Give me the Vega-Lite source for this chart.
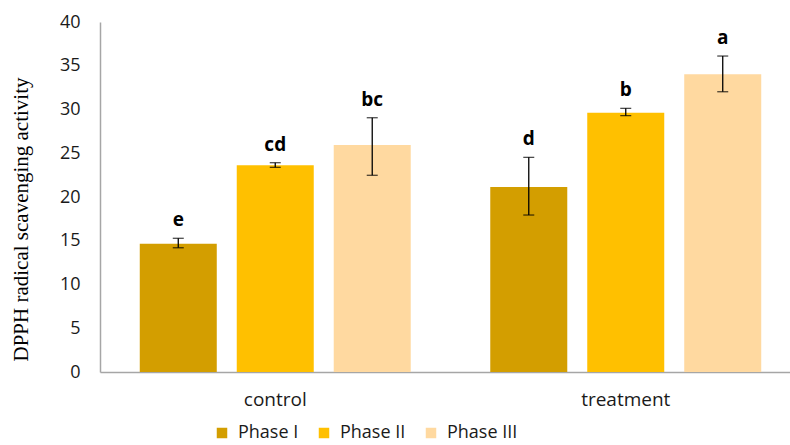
{
  "$schema": "https://vega.github.io/schema/vega-lite/v6.json",
  "width": 690,
  "height": 350,
  "autosize": {"type": "none"},
  "padding": {"left": 100, "top": 22, "right": 0, "bottom": 73},
  "background": "white",
  "config": {"view": {"stroke": null}, "font": "Open Sans"},
  "data": {
    "values": [
      {"group": "control", "phase": "Phase I", "mean": 14.66, "lo": 14.2, "hi": 15.28, "sig": "e"},
      {"group": "control", "phase": "Phase II", "mean": 23.62, "lo": 23.39, "hi": 23.92, "sig": "cd"},
      {"group": "control", "phase": "Phase III", "mean": 25.94, "lo": 22.48, "hi": 29.06, "sig": "bc"},
      {"group": "treatment", "phase": "Phase I", "mean": 21.14, "lo": 17.94, "hi": 24.53, "sig": "d"},
      {"group": "treatment", "phase": "Phase II", "mean": 29.64, "lo": 29.3, "hi": 30.13, "sig": "b"},
      {"group": "treatment", "phase": "Phase III", "mean": 34.02, "lo": 32.03, "hi": 36.11, "sig": "a"}
    ]
  },
  "encoding": {
    "x": {
      "field": "group",
      "type": "nominal",
      "sort": ["control", "treatment"],
      "scale": {"range": [0, 701], "paddingInner": 0, "paddingOuter": 0},
      "axis": {
        "title": null,
        "labelAngle": 0,
        "labelFontSize": 19,
        "labelColor": "#1a1a1a",
        "labelPadding": 18,
        "ticks": false,
        "domainColor": "#a6a6a6",
        "domainWidth": 1.5
      }
    },
    "xOffset": {
      "field": "phase",
      "type": "nominal",
      "sort": ["Phase I", "Phase II", "Phase III"],
      "scale": {"paddingInner": 0.206, "paddingOuter": 0.41}
    }
  },
  "layer": [
    {
      "mark": {"type": "bar"},
      "encoding": {
        "y": {
          "field": "mean",
          "type": "quantitative",
          "scale": {"domain": [0, 40]},
          "axis": {
            "title": "DPPH radical scavenging activity",
            "titleFont": "Liberation Serif",
            "titleFontWeight": "normal",
            "titleFontSize": 21,
            "titleColor": "#000000",
            "titlePadding": 28,
            "titleY": 197,
            "values": [0, 5, 10, 15, 20, 25, 30, 35, 40],
            "grid": false,
            "ticks": false,
            "labelPadding": 20,
            "labelFontSize": 18,
            "labelColor": "#1a1a1a",
            "domainColor": "#a6a6a6",
            "domainWidth": 1.5
          }
        },
        "color": {
          "field": "phase",
          "type": "nominal",
          "sort": ["Phase I", "Phase II", "Phase III"],
          "scale": {"domain": ["Phase I", "Phase II", "Phase III"], "range": ["#D39E00", "#FFC000", "#FFD9A0"]},
          "legend": {
            "title": null,
            "orient": "none",
            "direction": "horizontal",
            "legendX": 113,
            "legendY": 402,
            "symbolType": "square",
            "symbolSize": 110,
            "symbolStrokeWidth": 0,
            "labelFontSize": 18,
            "labelColor": "#1a1a1a",
            "labelOffset": 7,
            "columnPadding": 16
          }
        }
      }
    },
    {
      "mark": {"type": "rule", "color": "black", "strokeWidth": 1.3},
      "encoding": {
        "y": {"field": "lo", "type": "quantitative"},
        "y2": {"field": "hi"}
      }
    },
    {
      "mark": {"type": "tick", "color": "black", "size": 11, "thickness": 1.3},
      "encoding": {"y": {"field": "lo", "type": "quantitative"}}
    },
    {
      "mark": {"type": "tick", "color": "black", "size": 11, "thickness": 1.3},
      "encoding": {"y": {"field": "hi", "type": "quantitative"}}
    },
    {
      "mark": {"type": "text", "fontSize": 19, "fontWeight": "bold", "color": "black", "baseline": "alphabetic", "dy": -12},
      "encoding": {
        "y": {"field": "hi", "type": "quantitative"},
        "text": {"field": "sig"}
      }
    }
  ]
}
